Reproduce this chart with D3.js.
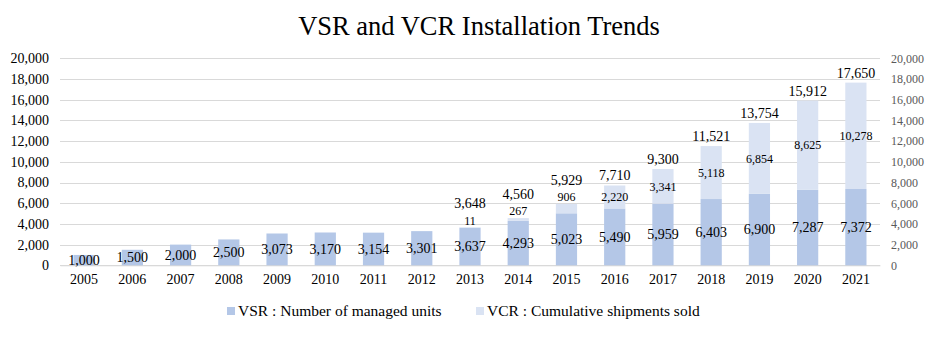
<!DOCTYPE html>
<html>
<head>
<meta charset="utf-8">
<script src="https://cdn.jsdelivr.net/npm/d3@7"></script>
<style>
  body { margin: 0; background: #fff; }
  svg text { font-family: "Liberation Serif", "Times New Roman", serif; fill: #000; }
</style>
</head>
<body>
<div id="chart"></div>
<script>
let years = ["2005","2006","2007","2008","2009","2010","2011","2012","2013","2014","2015","2016","2017","2018","2019","2020","2021"];
let vsr = [1000,1500,2000,2500,3073,3170,3154,3301,3637,4293,5023,5490,5959,6403,6900,7287,7372];
let vcr = [0,0,0,0,0,0,0,0,11,267,906,2220,3341,5118,6854,8625,10278];
let yTicks = [0,2000,4000,6000,8000,10000,12000,14000,16000,18000,20000];
let seriesNames = ["VSR : Number of managed units", "VCR : Cumulative shipments sold"];
let colors = ["#b4c7e7", "#dae3f3"];

let width = 942;
let height = 339;
let plot = {left: 60, right: 880, top: 58.3, bottom: 265.3};
let serif = "'Liberation Serif', 'Times New Roman', serif";

let rows = years.map((y, i) => ({year: y, vsr: vsr[i], vcr: vcr[i]}));
let stacked = d3.stack().keys(["vsr", "vcr"])(rows);

let x = d3.scaleBand()
  .domain(years)
  .range([plot.left, plot.right])
  .paddingInner(0.56)
  .paddingOuter(0.28);

let y = d3.scaleLinear()
  .domain([0, 20000])
  .range([plot.bottom, plot.top]);

let fmt = d3.format(",");

let svg = d3.select("#chart").append("svg")
  .attr("width", width)
  .attr("height", height);

svg.append("text")
  .attr("x", 479)
  .attr("y", 35)
  .attr("text-anchor", "middle")
  .style("font-family", serif)
  .style("font-size", "26.5px")
  .text("VSR and VCR Installation Trends");

// gridlines
svg.append("g")
  .selectAll("line")
  .data(yTicks)
  .enter()
  .append("line")
  .attr("x1", plot.left)
  .attr("x2", plot.right)
  .attr("y1", d => Math.round(y(d)) + 0.5)
  .attr("y2", d => Math.round(y(d)) + 0.5)
  .attr("stroke", "#d9d9d9")
  .attr("stroke-width", 1);

// left and right value axes
let leftAxis = svg.append("g")
  .attr("transform", "translate(" + plot.left + ",0)")
  .call(d3.axisLeft(y).tickValues(yTicks).tickFormat(fmt).tickSize(0).tickPadding(11));
let rightAxis = svg.append("g")
  .attr("transform", "translate(" + plot.right + ",0)")
  .call(d3.axisRight(y).tickValues(yTicks).tickFormat(fmt).tickSize(0).tickPadding(11));
leftAxis.select(".domain").remove();
rightAxis.select(".domain").remove();
leftAxis.selectAll("text")
  .style("font-family", serif)
  .style("font-size", "14px")
  .style("fill", "#000");
rightAxis.selectAll("text")
  .style("font-family", serif)
  .style("font-size", "12px")
  .style("fill", "#595959");

// category axis
let xAxis = svg.append("g")
  .attr("transform", "translate(0," + plot.bottom + ")")
  .call(d3.axisBottom(x).tickSize(0).tickPadding(9));
xAxis.select(".domain").attr("stroke", "#d9d9d9");
xAxis.selectAll("text")
  .style("font-family", serif)
  .style("font-size", "14px")
  .style("fill", "#000");

// stacked bars
let layers = svg.append("g")
  .selectAll("g")
  .data(stacked)
  .enter()
  .append("g")
  .attr("fill", (d, i) => colors[i]);

layers.selectAll("rect")
  .data(d => d)
  .enter()
  .append("rect")
  .attr("x", d => x(d.data.year))
  .attr("width", x.bandwidth())
  .attr("y", d => y(d[1]))
  .attr("height", d => y(d[0]) - y(d[1]));

// value labels: VSR centred, VCR centred (pushed above thin segments), total on top
let labels = svg.append("g").style("font-family", serif);
rows.forEach(r => {
  let cx = x(r.year) + x.bandwidth() / 2;
  labels.append("text")
    .attr("x", cx)
    .attr("y", (y(0) + y(r.vsr)) / 2)
    .attr("dy", "0.35em")
    .attr("text-anchor", "middle")
    .style("font-size", "14px")
    .text(fmt(r.vsr));
  if (r.vcr > 0) {
    let top = y(r.vsr + r.vcr);
    let segH = y(r.vsr) - top;
    let vcrMid = segH < 14 ? top - 7 : top + segH / 2;
    labels.append("text")
      .attr("x", cx)
      .attr("y", vcrMid)
      .attr("dy", "0.35em")
      .attr("text-anchor", "middle")
      .style("font-size", "12px")
      .text(fmt(r.vcr));
    labels.append("text")
      .attr("x", cx)
      .attr("y", Math.min(top - 10, vcrMid - 17))
      .attr("dy", "0.35em")
      .attr("text-anchor", "middle")
      .style("font-size", "14px")
      .text(fmt(r.vsr + r.vcr));
  }
});

// legend
let legendX = [227, 476];
let legend = svg.append("g")
  .selectAll("g")
  .data(seriesNames)
  .enter()
  .append("g")
  .attr("transform", (d, i) => "translate(" + legendX[i] + ",307)");
legend.append("rect")
  .attr("width", 8)
  .attr("height", 8)
  .attr("fill", (d, i) => colors[i]);
legend.append("text")
  .attr("x", 11)
  .attr("y", 4)
  .attr("dy", "0.35em")
  .style("font-family", serif)
  .style("font-size", "15.5px")
  .text(d => d);
</script>
</body>
</html>
